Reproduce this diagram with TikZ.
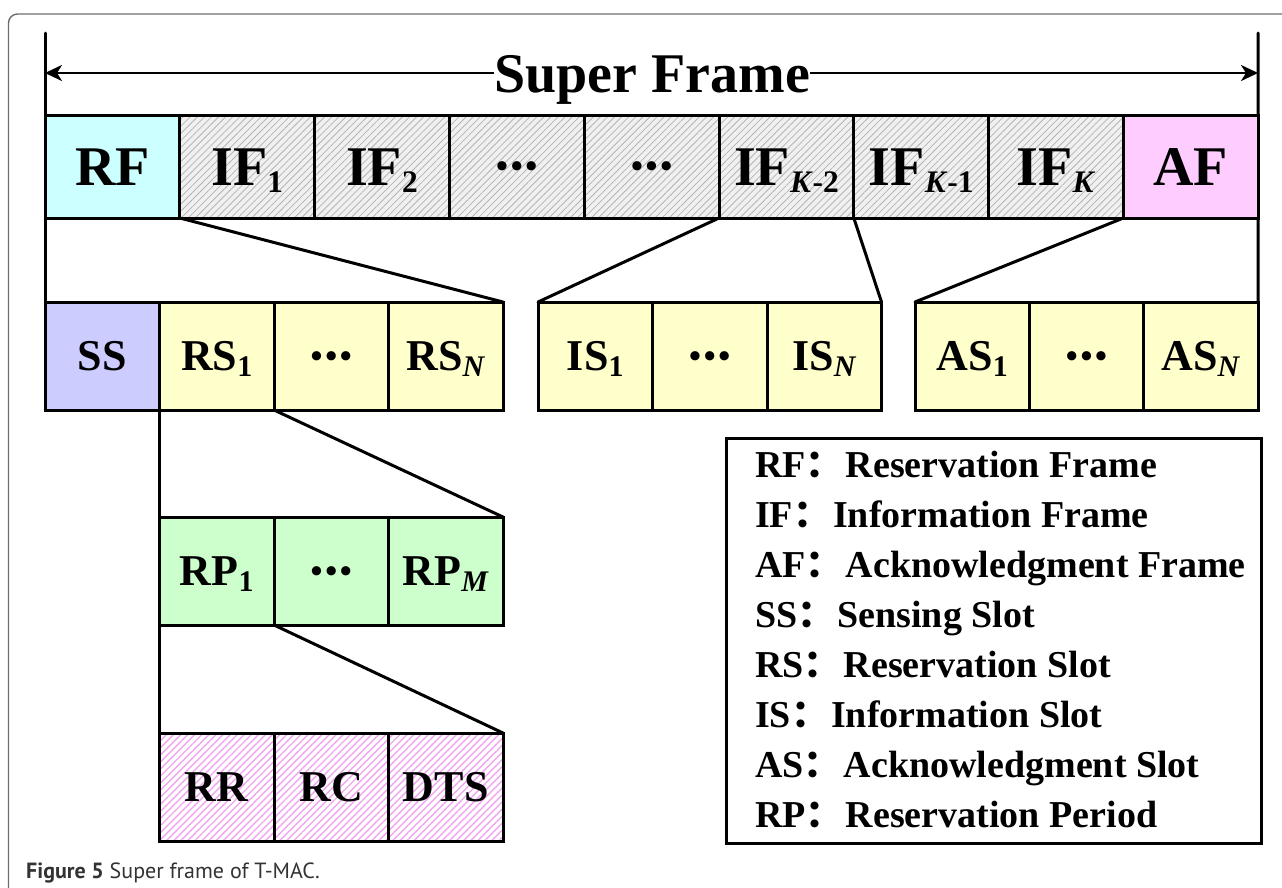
\documentclass[tikz,border=0pt]{standalone}
\usepackage{fontspec}
\setmainfont{Liberation Serif}
\newfontfamily\capfont{PT Sans}
\newfontfamily\cjk{Noto Sans CJK SC}
\usetikzlibrary{arrows.meta,patterns.meta}

\definecolor{rfcyan}{HTML}{CCFFFF}
\definecolor{afpink}{HTML}{FFCCFF}
\definecolor{sslav}{HTML}{CCCCFF}
\definecolor{slotyel}{HTML}{FFFFCC}
\definecolor{rpgreen}{HTML}{CCFFCC}
\definecolor{ifback}{HTML}{F0F0F0}
\definecolor{ifhatch}{HTML}{B4B4B4}
\definecolor{rrhatch}{HTML}{F2A6F2}
\definecolor{framegray}{HTML}{6E6E6E}
\definecolor{capgray}{HTML}{333333}

% lowered, reduced subscripts (large and small cells) and a centred ellipsis
\newcommand\sbs[1]{\raisebox{-0.13em}{\scalebox{0.56}{#1}}}
\newcommand\sbm[1]{\raisebox{-0.14em}{\scalebox{0.68}{#1}}}
\newcommand\tridot[1][3pt]{\raisebox{#1}{\fontsize{34}{34}\selectfont
  \textbullet\kern0.08em\textbullet\kern0.08em\textbullet}}
\newcommand\fcolon{{\cjk ：}\kern2pt}

\tikzset{
  cellbase/.style={draw=black, line width=3pt, inner sep=0pt, outer sep=0pt,
    anchor=north west, text depth=0pt},
  bigcell/.style={cellbase, minimum width=134.8pt, minimum height=103pt,
    font=\fontsize{56}{60}\selectfont\bfseries, text height=37pt},
  smallcell/.style={cellbase, minimum width=114.5pt, minimum height=108pt,
    font=\fontsize{44}{48}\selectfont\bfseries, text height=29pt},
  ifcell/.style={preaction={fill=ifback},
    pattern={Lines[angle=45,distance=5pt,line width=0.8pt]}, pattern color=ifhatch},
  rrcell/.style={preaction={fill=white},
    pattern={Lines[angle=45,distance=5pt,line width=1.4pt]}, pattern color=rrhatch},
  link/.style={line width=3pt, line cap=round},
  legtext/.style={anchor=base west, inner sep=0pt,
    font=\fontsize{38}{40}\selectfont\bfseries},
}

\begin{document}
\begin{tikzpicture}[x=1pt, y=-1pt]
\useasboundingbox (0,0) rectangle (1282,887);
\clip (0,0) rectangle (1282,887);

% outer figure frame
\draw[framegray, line width=1.4pt, rounded corners=9pt] (8.5,920) |- (1320,14);

% super frame row
\node[bigcell, fill=rfcyan] (RF)  at (45,115) {RF};
\node[bigcell, ifcell] (IFa)  at (179.8,115) {IF\sbs{1}};
\node[bigcell, ifcell] (IFb)  at (314.6,115) {IF\sbs{2}};
\node[bigcell, ifcell] (IFc)  at (449.4,115) {\tridot[8pt]};
\node[bigcell, ifcell] (IFd)  at (584.2,115) {\tridot[8pt]};
\node[bigcell, ifcell] (IFk2) at (719.0,115) {IF\sbs{\textit{K}-2}};
\node[bigcell, ifcell] (IFk1) at (853.8,115) {IF\sbs{\textit{K}-1}};
\node[bigcell, ifcell] (IFk)  at (988.6,115) {IF\sbs{\textit{K}}};
\node[bigcell, fill=afpink] (AF) at (1123.4,115) {AF};

% title with its span arrow
\node[anchor=base, inner sep=0pt, font=\fontsize{56}{60}\selectfont\bfseries]
  (title) at (652,92) {Super Frame};
\coordinate (topL) at (45,33);
\coordinate (topR) at (1258,33);
\coordinate (arrL) at (45,73);
\coordinate (arrR) at (1258,73);
\draw[line width=2.6pt, -{Stealth[length=17pt,width=16pt,inset=5pt]}]
  (arrL -| title.west) -- (arrL);
\draw[line width=2.6pt, -{Stealth[length=17pt,width=16pt,inset=5pt]}]
  (arrR -| title.east) -- (arrR);
\draw[link] (topL) -- (RF.north west);
\draw[link] (topR) -- (AF.north east);

% reservation frame slots
\node[smallcell, fill=sslav]   (SS)  at (45,302)    {SS};
\node[smallcell, fill=slotyel] (RS1) at (159.5,302) {RS\sbm{1}};
\node[smallcell, fill=slotyel] (RSd) at (274,302)   {\tridot};
\node[smallcell, fill=slotyel] (RSN) at (388.5,302) {RS\sbm{\textit{N}}};

% information frame slots
\node[smallcell, fill=slotyel] (IS1) at (538,302)   {IS\sbm{1}};
\node[smallcell, fill=slotyel] (ISd) at (652.5,302) {\tridot};
\node[smallcell, fill=slotyel] (ISN) at (767,302)   {IS\sbm{\textit{N}}};

% acknowledgment frame slots
\node[smallcell, fill=slotyel] (AS1) at (915,302)   {AS\sbm{1}};
\node[smallcell, fill=slotyel] (ASd) at (1029.3,302) {\tridot};
\node[smallcell, fill=slotyel] (ASN) at (1143.6,302) {AS\sbm{\textit{N}}};

% reservation periods
\node[smallcell, fill=rpgreen] (RP1) at (159.5,517) {RP\sbm{1}};
\node[smallcell, fill=rpgreen] (RPd) at (274,517)   {\tridot};
\node[smallcell, fill=rpgreen] (RPM) at (388.5,517) {RP\sbm{\textit{M}}};

% reservation period fields
\node[smallcell, rrcell] (RR)  at (159.5,733) {RR};
\node[smallcell, rrcell] (RC)  at (274,733)   {RC};
\node[smallcell, rrcell] (DTS) at (388.5,733) {DTS};

% expansion lines
\draw[link] (RF.south west) -- (SS.north west);
\draw[link] (RF.south east) -- (RSN.north east);
\draw[link] (IFk2.south west) -- (IS1.north west);
\draw[link] (IFk2.south east) -- (ISN.north east);
\draw[link] (AF.south west) -- (AS1.north west);
\draw[link] (AF.south east) -- (ASN.north east);
\draw[link] (RS1.south west) -- (RP1.north west);
\draw[link] (RS1.south east) -- (RPM.north east);
\draw[link] (RP1.south west) -- (RR.north west);
\draw[link] (RP1.south east) -- (DTS.north east);

% legend
\node[draw=black, line width=3pt, anchor=north west, inner sep=0pt,
  minimum width=535pt, minimum height=405pt] (legend) at (725,437) {};
\node[legtext] (l1) at (755,477) {RF\fcolon Reservation Frame};
\node[legtext] (l2) at (755,527) {IF\fcolon Information Frame};
\node[legtext] (l3) at (755,577) {AF\fcolon Acknowledgment Frame};
\node[legtext] (l4) at (755,627) {SS\fcolon Sensing Slot};
\node[legtext] (l5) at (755,677) {RS\fcolon Reservation Slot};
\node[legtext] (l6) at (755,727) {IS\fcolon Information Slot};
\node[legtext] (l7) at (755,777) {AS\fcolon Acknowledgment Slot};
\node[legtext] (l8) at (755,827) {RP\fcolon Reservation Period};

% caption
\node[anchor=base west, inner sep=0pt, text=capgray,
  font=\capfont\fontsize{22}{24}\selectfont] (cap) at (26,878)
  {\textbf{Figure 5} Super frame of T-MAC.};
\end{tikzpicture}
\end{document}
